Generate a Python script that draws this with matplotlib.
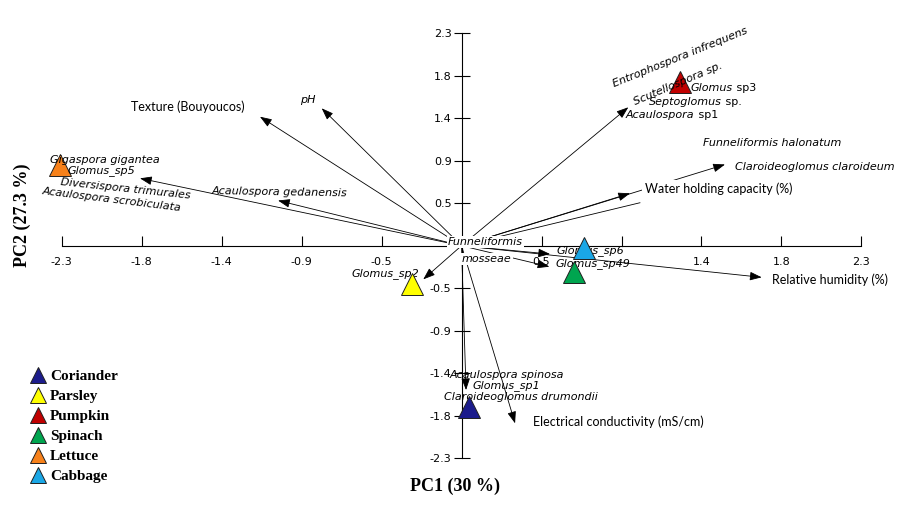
import matplotlib.pyplot as plt
from matplotlib.lines import Line2D

# crop scores on PC1 / PC2
crops = ['Coriander', 'Parsley', 'Pumpkin', 'Spinach', 'Lettuce', 'Cabbage']
crop_pc1 = [0.043, -0.286, 1.259, 0.647, -2.309, 0.704]
crop_pc2 = [-1.75, -0.415, 1.772, -0.285, 0.873, -0.03]
crop_colors = ['#1c1c8c', '#ffff00', '#c00000', '#00a54f', '#f7811a', '#1aa7e6']

# loading vectors (arrow tips)
vec_pc1 = [-1.159, -0.804, -1.055, -1.849, 0.959, 0.969, 1.515, 1.726, 0.509, 0.505, -0.220, 0.026, 0.308]
vec_pc2 = [1.396, 1.487, 0.489, 0.729, 1.498, 0.567, 0.879, -0.342, -0.090, -0.227, -0.364, -1.562, -1.922]
# loading whose tip is hidden under the labels
hidden_pc1 = 1.026
hidden_pc2 = 0.465

# species labels (italic), left edge / vertical centre
sp_names = ['pH', 'Gigaspora gigantea', 'Glomus_sp5', 'Glomus_sp2',
            'Glomus_sp6', 'Glomus_sp49', 'Funneliformis halonatum', 'Claroideoglomus claroideum',
            'Acaulospora spinosa', 'Glomus_sp1', 'Claroideoglomus drumondii']
sp_x = [-0.929, -2.366, -2.263, -0.635, 0.547, 0.542, 1.390, 1.573, -0.066, 0.064, -0.099]
sp_y = [1.577, 0.927, 0.809, -0.306, -0.057, -0.193, 1.111, 0.855, -1.399, -1.518, -1.637]

# rotated species labels, centre + angle
rot_names = ['Diversispora trimurales', 'Acaulospora scrobiculata', 'Acaulospora gedanensis',
             'Entrophospora infrequens', 'Scutellospora sp.']
rot_x = [-1.935, -2.011, -1.044, 1.256, 1.245]
rot_y = [0.610, 0.500, 0.576, 2.037, 1.750]
rot_angle = [-6, -7, -1, 22, 23]

# genus (italic) + epithet (upright)
mix_genus = ['Glomus', 'Septoglomus', 'Acaulospora']
mix_rest = [' sp3', ' sp.', ' sp1']
mix_x = [1.318, 1.080, 0.946]
mix_y = [1.712, 1.555, 1.414]

# soil variable labels
var_names = ['Texture (Bouyoucos)', 'Water holding capacity (%)', 'Relative humidity (%)',
             'Electrical conductivity (mS/cm)']
var_x = [-1.901, 1.055, 1.784, 0.409]
var_y = [1.501, 0.614, -0.366, -1.903]

ticks = [-2.3, -1.84, -1.38, -0.92, -0.46, 0.46, 0.92, 1.38, 1.84, 2.3]

fig = plt.figure(figsize=(9.18, 5.15), dpi=100)
ax = fig.add_axes([0, 0, 1, 1])
ax.set_xlim(-2.654, 2.625)
ax.set_ylim(-2.914, 2.659)

for s in ['top', 'right']:
    ax.spines[s].set_visible(False)
for s in ['left', 'bottom']:
    ax.spines[s].set_position(('data', 0))
    ax.spines[s].set_bounds(-2.3, 2.3)
    ax.spines[s].set_linewidth(0.8)

ax.set_xticks(ticks)
ax.set_xticklabels(['' if abs(t - 0.92) < 1e-6 else '%.1f' % t for t in ticks])
ax.set_yticks(ticks)
ax.set_yticklabels(['%.1f' % t for t in ticks])
ax.tick_params(axis='x', direction='in', length=7, width=0.8, pad=8, labelsize=8)
ax.tick_params(axis='y', direction='inout', length=12, width=0.8, pad=1.2, labelsize=8)

# loading arrows
aprops = dict(arrowstyle='-|>,head_length=0.6,head_width=0.22', lw=0.6, color='black',
              mutation_scale=12, shrinkA=0, shrinkB=0)
for x, y in zip(vec_pc1, vec_pc2):
    ax.annotate('', xy=(x, y), xytext=(0, 0), arrowprops=aprops, zorder=2)
ax.plot([0, hidden_pc1], [0, hidden_pc2], color='black', lw=0.6, zorder=2)

# crops under the labels for pumpkin and lettuce, above for the rest
for name, x, y, c in zip(crops, crop_pc1, crop_pc2, crop_colors):
    z = 2.6 if name in ('Pumpkin', 'Lettuce') else 5
    ax.plot(x, y, marker='^', ms=16, mfc=c, mec='#202020', mew=0.7, ls='', zorder=z)

sp_font = dict(family='DejaVu Sans', style='italic', size=8)
for name, x, y in zip(sp_names, sp_x, sp_y):
    ax.text(x, y, name, ha='left', va='center', zorder=4, **sp_font)
for name, x, y, a in zip(rot_names, rot_x, rot_y, rot_angle):
    ax.text(x, y, name, ha='center', va='center', rotation=a, rotation_mode='anchor',
            zorder=4, **sp_font)
for g, r, x, y in zip(mix_genus, mix_rest, mix_x, mix_y):
    t = ax.text(x, y, g, ha='left', va='center', zorder=4, **sp_font)
    ax.annotate(r, xy=(1, 0), xycoords=t, ha='left', va='bottom',
                family='DejaVu Sans', size=8, zorder=4)

# centre label with white background over the axes
box = dict(facecolor='white', edgecolor='none', pad=1)
ax.text(-0.078, 0.040, 'Funneliformis', ha='left', va='center', zorder=4, bbox=box, **sp_font)
ax.text(0.003, -0.144, 'mosseae', ha='left', va='center', zorder=4, bbox=box, **sp_font)

for name, x, y in zip(var_names, var_x, var_y):
    ax.text(x, y, name, ha='left', va='center', family='Lato', size=9, zorder=4,
            bbox=dict(facecolor='white', edgecolor='none', pad=2))

fig.text(455 / 918, 1 - 486 / 515, 'PC1 (30 %)', ha='center', va='center',
         family='Liberation Serif', weight='bold', size=13)
fig.text(22 / 918, 1 - 215 / 515, 'PC2 (27.3 %)', ha='center', va='center', rotation=90,
         family='Liberation Serif', weight='bold', size=13)

handles = [Line2D([], [], marker='^', ls='', ms=11, mfc=c, mec='#202020', mew=0.7)
           for c in crop_colors]
ax.legend(handles, crops, loc='upper left', bbox_to_anchor=(23 / 918, 1 - 362 / 515),
          bbox_transform=fig.transFigure, frameon=False, borderpad=0, handlelength=1,
          handletextpad=0.27, labelspacing=0.41,
          prop=dict(family='Liberation Serif', weight='bold', size=11))

fig.savefig('out.png', dpi=100)
